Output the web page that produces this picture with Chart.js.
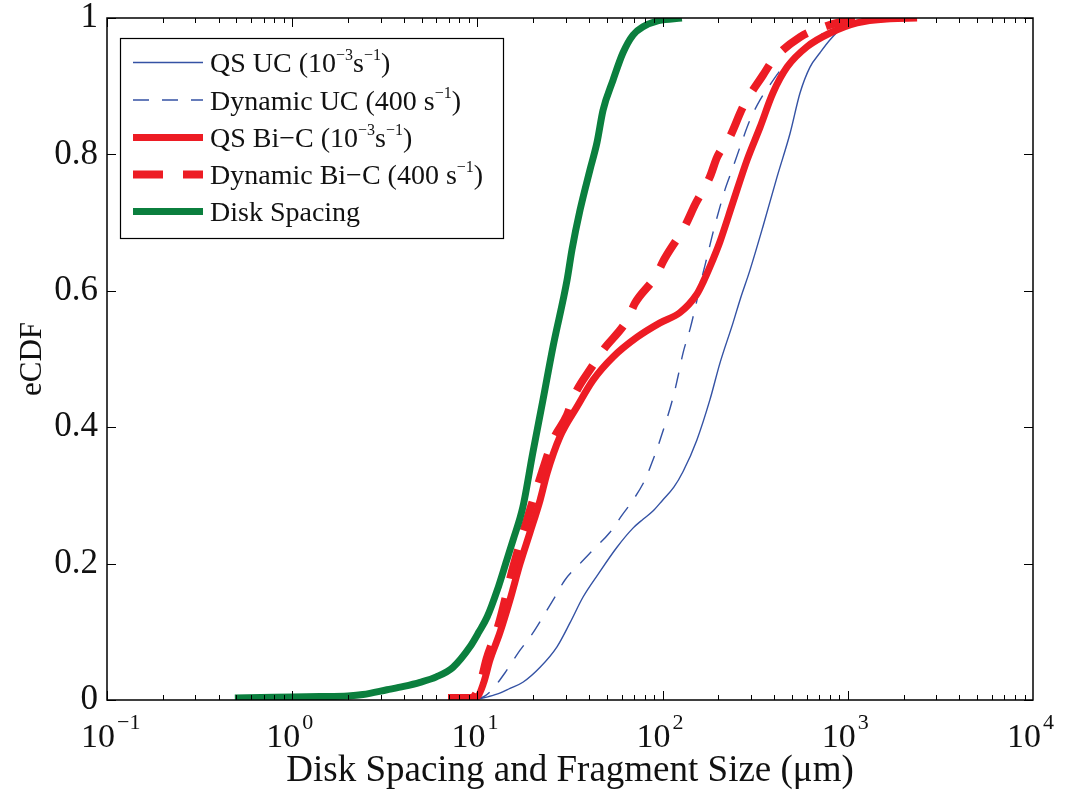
<!DOCTYPE html>
<html><head><meta charset="utf-8">
<script src="https://cdn.jsdelivr.net/npm/chart.js@4"></script>
<style>html,body{margin:0;padding:0;background:#fff;} #wrap{width:1067px;height:796px;}</style>
</head><body><div id="wrap"><canvas id="c" width="1067" height="796"></canvas></div>
<script>
// ---------- data ----------
const seriesNames = ["QS UC (10\u207B\u00B3s\u207B\u00B9)", "Dynamic UC (400 s\u207B\u00B9)", "QS Bi\u2212C (10\u207B\u00B3s\u207B\u00B9)", "Dynamic Bi\u2212C (400 s\u207B\u00B9)", "Disk Spacing"];

const qsUcX = [9.5, 10.3, 11.5, 13.2, 15.0, 17.6, 21.8, 26.9, 31.6, 37.2, 45, 56.7, 69.2, 78.4, 88.7, 100, 115, 129, 153, 180, 204, 240, 262, 296, 348, 415, 488, 552, 625, 708, 802, 942, 1164, 2089];
const qsUcY = [0.0, 0.002, 0.005, 0.01, 0.017, 0.026, 0.048, 0.078, 0.113, 0.151, 0.185, 0.224, 0.252, 0.265, 0.277, 0.293, 0.312, 0.335, 0.381, 0.44, 0.494, 0.553, 0.587, 0.63, 0.694, 0.767, 0.831, 0.89, 0.928, 0.949, 0.968, 0.987, 0.997, 1.0];

const dynUcX = [9.8, 11, 12, 14.1, 17, 19.9, 22.6, 26.2, 29.7, 35.8, 42.1, 52, 60.4, 69.2, 80.4, 88.7, 96.8, 114, 121, 129, 141, 150, 165, 174, 187, 204, 217, 237, 262, 296, 336, 380, 447, 506, 620, 773, 1100, 1500];
const dynUcY = [0.0, 0.006, 0.015, 0.04, 0.073, 0.098, 0.122, 0.151, 0.176, 0.2, 0.22, 0.246, 0.271, 0.293, 0.323, 0.352, 0.381, 0.444, 0.474, 0.509, 0.545, 0.575, 0.625, 0.65, 0.685, 0.723, 0.748, 0.777, 0.811, 0.85, 0.88, 0.902, 0.928, 0.94, 0.96, 0.982, 0.997, 1.0];

const qsBiX = [6.94, 9.0, 10.0, 10.8, 11.7, 13.2, 15.0, 17.0, 19.2, 21.8, 23.8, 27.9, 34.5, 42.1, 54, 72.8, 96.8, 124, 153, 165, 180, 204, 240, 286, 336, 394, 470, 603, 802, 1122, 1690, 2366];
const qsBiY = [0.003, 0.003, 0.005, 0.025, 0.059, 0.098, 0.147, 0.2, 0.245, 0.293, 0.333, 0.386, 0.43, 0.469, 0.503, 0.532, 0.553, 0.568, 0.595, 0.612, 0.635, 0.672, 0.73, 0.792, 0.84, 0.89, 0.928, 0.958, 0.978, 0.993, 0.999, 1.0];

const dynBiX = [6.94, 9.0, 9.6, 10.5, 11.2, 13.0, 15.6, 18.5, 21.5, 25.6, 30.5, 33, 42.1, 47.7, 64.3, 71, 91, 103, 132, 150, 180, 197, 231, 272, 348, 394, 552, 708, 908, 1318];
const dynBiY = [0.003, 0.003, 0.005, 0.03, 0.06, 0.11, 0.195, 0.264, 0.32, 0.381, 0.418, 0.444, 0.491, 0.513, 0.557, 0.582, 0.62, 0.648, 0.695, 0.727, 0.767, 0.796, 0.826, 0.87, 0.916, 0.938, 0.972, 0.985, 0.994, 1.0];

const diskX = [0.49, 0.8, 1.41, 2.0, 2.41, 3.25, 4.0, 4.9, 6.0, 7.38, 9.12, 10.2, 11.3, 12.8, 14.4, 15.6, 17.6, 19.9, 22.6, 25.6, 30.5, 32.4, 35.8, 40.5, 44.2, 47.7, 54, 61.1, 69.2, 78.4, 95, 127];
const diskY = [0.003, 0.004, 0.005, 0.006, 0.008, 0.015, 0.02, 0.026, 0.034, 0.048, 0.078, 0.1, 0.122, 0.161, 0.205, 0.235, 0.283, 0.362, 0.44, 0.518, 0.616, 0.66, 0.718, 0.777, 0.817, 0.865, 0.909, 0.949, 0.975, 0.987, 0.996, 1.0];

const xTickValues = [0.1, 1, 10, 100, 1000, 10000];
const xTickBases = ["10", "10", "10", "10", "10", "10"];
const xTickExps = ["\u22121", "0", "1", "2", "3", "4"];
const yTickValues = [0, 0.2, 0.4, 0.6, 0.8, 1];
const yTickLabels = ["0", "0.2", "0.4", "0.6", "0.8", "1"];

// ---------- styling ----------
const FONT = "'Liberation Serif', 'DejaVu Serif', serif";
const BLUE = '#3452A4', RED = '#ED1C24', GREEN = '#0B7F3E';
const SUP = {'\u207B': '\u2212', '\u00B9': '1', '\u00B2': '2', '\u00B3': '3', '\u2070': '0', '\u2074': '4'};

function pts(xs, ys) { return xs.map((x, i) => ({x: x, y: ys[i]})); }

// draw a string, rendering Unicode superscript characters as small raised text
function drawRich(ctx, str, x, y, size, supSize, raise) {
  const runs = [];
  for (const ch of str) {
    const sup = SUP[ch] !== undefined;
    const c = sup ? SUP[ch] : ch;
    if (runs.length && runs[runs.length - 1].sup === sup) runs[runs.length - 1].t += c;
    else runs.push({t: c, sup: sup});
  }
  ctx.textBaseline = 'alphabetic';
  ctx.textAlign = 'left';
  let cx = x;
  runs.forEach(r => {
    ctx.font = (r.sup ? supSize : size) + 'px ' + FONT;
    ctx.fillText(r.t, cx, r.sup ? y - raise : y);
    cx += ctx.measureText(r.t).width;
  });
}

const frameTicks = {
  id: 'frameTicks',
  afterDraw(chart) {
    const {ctx, chartArea: a, scales} = chart;
    const sx = scales.x, sy = scales.y;
    ctx.save();
    ctx.strokeStyle = '#000';
    ctx.lineWidth = 1;
    ctx.beginPath();
    for (let e = -1; e <= 3; e++) {
      for (let m = 1; m <= 9; m++) {
        const v = m * Math.pow(10, e);
        const px = Math.round(sx.getPixelForValue(v)) + 0.5;
        const len = (m === 1) ? 9 : 5;
        ctx.moveTo(px, a.bottom); ctx.lineTo(px, a.bottom - len);
        ctx.moveTo(px, a.top); ctx.lineTo(px, a.top + len);
      }
    }
    yTickValues.forEach(v => {
      const py = Math.round(sy.getPixelForValue(v)) + 0.5;
      ctx.moveTo(a.left, py); ctx.lineTo(a.left + 9, py);
      ctx.moveTo(a.right, py); ctx.lineTo(a.right - 9, py);
    });
    ctx.stroke();
    ctx.lineWidth = 1.5;
    ctx.strokeRect(a.left, a.top, a.right - a.left, a.bottom - a.top);
    // exponents of the x tick labels
    ctx.fillStyle = '#111';
    ctx.font = '22px ' + FONT;
    ctx.textBaseline = 'alphabetic';
    ctx.textAlign = 'left';
    xTickValues.forEach((v, i) => {
      const px = sx.getPixelForValue(v);
      ctx.fillText(xTickExps[i], px + 10, 729);
    });
    ctx.restore();
  }
};

const boxLegend = {
  id: 'boxLegend',
  afterDraw(chart) {
    const ctx = chart.ctx;
    const bx = 120, by = 38, bw = 383, bh = 200;
    ctx.save();
    ctx.fillStyle = '#fff';
    ctx.fillRect(bx, by, bw, bh);
    ctx.strokeStyle = '#000';
    ctx.lineWidth = 1.2;
    ctx.strokeRect(bx + 0.5, by + 0.5, bw, bh);
    const rows = [62.5, 100, 137.5, 174.5, 211.5];
    chart.data.datasets.forEach((ds, i) => {
      const yy = rows[i];
      ctx.beginPath();
      ctx.strokeStyle = ds.borderColor;
      ctx.lineWidth = ds.borderWidth;
      ctx.setLineDash(ds.borderDash || []);
      ctx.moveTo(133, yy); ctx.lineTo(203, yy);
      ctx.stroke();
      ctx.setLineDash([]);
      ctx.fillStyle = '#111';
      drawRich(ctx, ds.label, 210, yy + 9.5, 28, 16, 12);
    });
    ctx.restore();
  }
};

function mkDs(i, xs, ys, color, width, dash, order) {
  return {
    label: seriesNames[i],
    data: pts(xs, ys),
    borderColor: color,
    backgroundColor: color,
    borderWidth: width,
    borderDash: dash,
    pointRadius: 0,
    fill: false,
    cubicInterpolationMode: 'monotone',
    order: order
  };
}

new Chart(document.getElementById('c'), {
  type: 'line',
  data: {
    datasets: [
      mkDs(0, qsUcX, qsUcY, BLUE, 1.4, [], 4),
      mkDs(1, dynUcX, dynUcY, BLUE, 1.4, [16, 13], 3),
      mkDs(2, qsBiX, qsBiY, RED, 7, [], 2),
      mkDs(3, dynBiX, dynBiY, RED, 8, [30, 20], 1),
      mkDs(4, diskX, diskY, GREEN, 7, [], 0)
    ]
  },
  options: {
    responsive: false,
    devicePixelRatio: 1,
    animation: false,
    layout: {padding: {top: 18, right: 34, left: 0, bottom: 0}},
    plugins: {legend: {display: false}, tooltip: {enabled: false}},
    scales: {
      x: {
        type: 'logarithmic',
        min: 0.1, max: 10000,
        grid: {display: false, drawTicks: false},
        border: {display: false},
        afterBuildTicks: s => { s.ticks = xTickValues.map(v => ({value: v})); },
        afterFit: s => { s.height = 96; s.paddingLeft = 0; s.paddingRight = 0; },
        ticks: {
          autoSkip: false, maxRotation: 0, padding: 18, labelOffset: -9,
          color: '#111', font: {family: FONT, size: 34},
          callback: (v, i) => xTickBases[i]
        },
        title: {display: true, text: 'Disk Spacing and Fragment Size (\u03BCm)', color: '#111',
                font: {family: FONT, size: 37}, padding: {top: 0, bottom: 3}}
      },
      y: {
        type: 'linear',
        min: 0, max: 1,
        grid: {display: false, drawTicks: false},
        border: {display: false},
        afterBuildTicks: s => { s.ticks = yTickValues.map(v => ({value: v})); },
        afterFit: s => { s.width = 107; s.paddingTop = 0; s.paddingBottom = 0; },
        ticks: {
          autoSkip: false, padding: 9,
          color: '#111', font: {family: FONT, size: 35},
          callback: (v, i) => yTickLabels[i]
        },
        title: {display: true, text: 'eCDF', color: '#111',
                font: {family: FONT, size: 31}, padding: {top: 14, bottom: 0}}
      }
    }
  },
  plugins: [frameTicks, boxLegend]
});
</script>
</body></html>
